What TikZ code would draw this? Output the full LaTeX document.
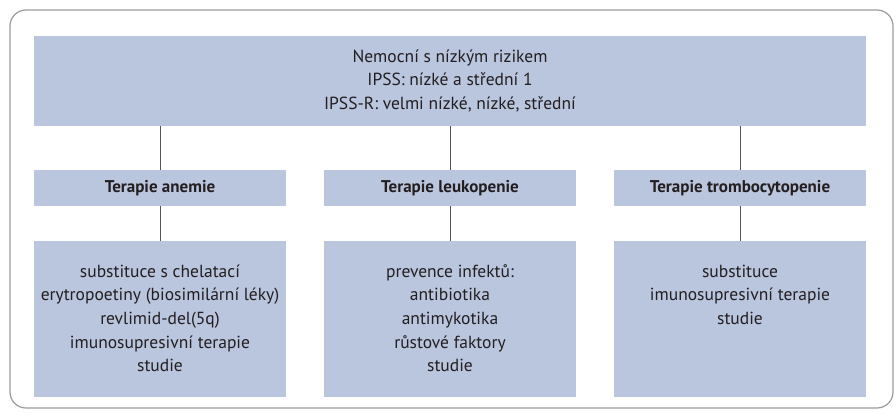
\documentclass[tikz,border=0pt]{standalone}
\usepackage{fontspec}
\setmainfont{PT Sans}
\usetikzlibrary{matrix}

\definecolor{boxblue}{RGB}{186,197,222}
\definecolor{inkgray}{RGB}{35,31,32}
\definecolor{framegray}{RGB}{155,155,155}
\definecolor{linegray}{RGB}{85,85,85}

\newcommand{\lowtext}[1]{\parbox[c][156pt][t]{252pt}{\centering\rule{0pt}{36pt}#1}}

\begin{document}
\begin{tikzpicture}[x=1pt,y=-1pt,font=\fontsize{17.5}{23.7}\selectfont,every node/.style={text=inkgray}]
  \useasboundingbox (0,0) rectangle (896,412);
  \draw[framegray, line width=1.2pt, rounded corners=16pt] (10,10) rectangle (893,408);
  \node (risk) [fill=boxblue, minimum width=832pt, minimum height=90pt, inner sep=0pt, align=center] at (450,81)
    {Nemocní s nízkým rizikem\\ IPSS: nízké a střední 1\\ IPSS-R: velmi nízké, nízké, střední};
  \matrix (m) [matrix of nodes,row sep=35pt,column sep=38pt,inner sep=0pt,
    nodes={fill=boxblue,minimum width=252pt,inner sep=0pt,anchor=center},
    row 1/.style={nodes={minimum height=36pt,font=\fontsize{17}{23.7}\selectfont\bfseries}},
    row 2/.style={nodes={minimum height=156pt}}] at (450,283.5)
  {
    Terapie anemie & Terapie leukopenie & Terapie trombocytopenie \\
    \lowtext{substituce s chelatací\\ erytropoetiny (biosimilární léky)\\ revlimid-del(5q)\\ imunosupresivní terapie\\ studie}
      & \lowtext{prevence infektů:\\ antibiotika\\ antimykotika\\ růstové faktory\\ studie}
      & \lowtext{substituce\\ imunosupresivní terapie\\ studie} \\
  };
  \path[color=linegray, line width=1pt]
    (m-1-1) edge (m-2-1)
            edge (m-1-1 |- risk.south)
    (m-1-2) edge (m-2-2)
            edge (m-1-2 |- risk.south)
    (m-1-3) edge (m-2-3)
            edge (m-1-3 |- risk.south)
  ;
\end{tikzpicture}
\end{document}
